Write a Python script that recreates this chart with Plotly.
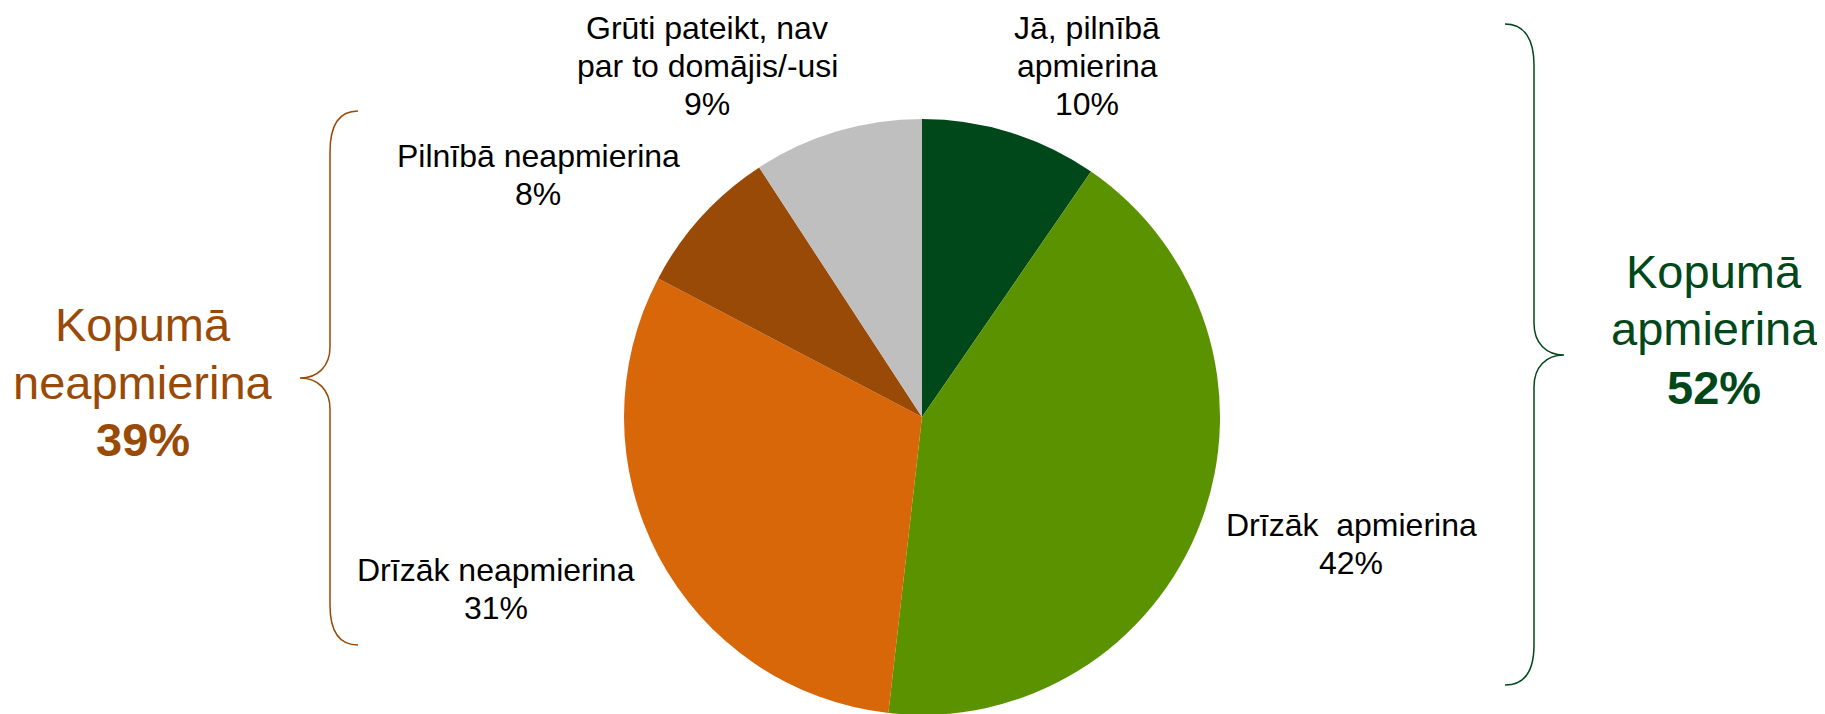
import plotly.graph_objects as go

# ---- data ----
categories = [
    "Jā, pilnībā<br>apmierina",
    "Drīzāk  apmierina",
    "Drīzāk neapmierina",
    "Pilnībā neapmierina",
    "Grūti pateikt, nav<br>par to domājis/-usi",
]
values = [9.6, 42.2, 30.9, 8.1, 9.2]
value_labels = ["10%", "42%", "31%", "8%", "9%"]
slice_colors = ["#00481A", "#5B9200", "#D8670A", "#994A06", "#BFBFBF"]

group_titles = ["Kopumā<br>neapmierina", "Kopumā<br>apmierina"]
group_values = ["39%", "52%"]
group_colors = ["#994A06", "#00481A"]

W, H = 1825, 714
OFF = 8  # default page body margin
FONT = "Liberation Sans, Arial, sans-serif"


def px(x):
    return (x - OFF) / W


def py(y):
    return 1 - (y - OFF) / H


fig = go.Figure()
cy = 417 - OFF
r = 298
fig.add_trace(go.Pie(
    labels=categories,
    values=values,
    sort=False,
    direction="clockwise",
    rotation=0,
    marker=dict(colors=slice_colors, line=dict(width=0)),
    textinfo="none",
    hoverinfo="label+percent",
    showlegend=False,
    domain=dict(x=[px(572), px(1272)],
                y=[(H - cy - r) / H, (H - cy + r) / H]),
))


def add_lines(lines, x, y0, step, size, color, bold_last=False):
    for i, ln in enumerate(lines):
        txt = f"<b>{ln}</b>" if (bold_last and i == len(lines) - 1) else ln
        fig.add_annotation(
            x=px(x), y=py(y0 + i * step), xref="paper", yref="paper",
            text=txt, showarrow=False, xanchor="center", yanchor="middle",
            font=dict(family=FONT, size=size, color=color),
        )


# slice labels: (x centre, first line centre) in page pixels
label_pos = [(1087, 28), (1351, 525), (496, 570), (538, 156), (707, 28)]
for cat, val, (x, y) in zip(categories, value_labels, label_pos):
    add_lines(cat.split("<br>") + [val], x, y, 38, 32, "#000000")

# group totals
group_pos = [(143, 324), (1714, 271)]
for title, val, col, (x, y) in zip(group_titles, group_values, group_colors, group_pos):
    add_lines(title.split("<br>") + [val], x, y, 58, 47, col, bold_last=True)


def brace(pts_cmds):
    out = []
    for c, pts in pts_cmds:
        out.append(c + " " + " ".join(f"{px(x):.5f},{py(y):.5f}" for x, y in pts))
    return " ".join(out)


left_path = brace([
    ("M", [(358, 111)]),
    ("C", [(338, 111), (330, 127), (330, 152)]),
    ("L", [(330, 347)]),
    ("C", [(330, 366), (318, 378), (300, 378)]),
    ("C", [(318, 378), (330, 390), (330, 409)]),
    ("L", [(330, 605)]),
    ("C", [(330, 630), (338, 645), (358, 645)]),
])
right_path = brace([
    ("M", [(1505, 24)]),
    ("C", [(1525, 24), (1534, 40), (1534, 65)]),
    ("L", [(1534, 323)]),
    ("C", [(1534, 343), (1546, 355), (1564, 355)]),
    ("C", [(1546, 355), (1534, 367), (1534, 387)]),
    ("L", [(1534, 645)]),
    ("C", [(1534, 670), (1525, 685), (1505, 685)]),
])
fig.add_shape(type="path", path=left_path, xref="paper", yref="paper",
              line=dict(color=group_colors[0], width=1.5))
fig.add_shape(type="path", path=right_path, xref="paper", yref="paper",
              line=dict(color=group_colors[1], width=1.5))

fig.update_layout(
    width=W, height=H,
    margin=dict(l=0, r=0, t=0, b=0),
    paper_bgcolor="white", plot_bgcolor="white",
    font=dict(family=FONT),
)

fig.write_html("out.html")
